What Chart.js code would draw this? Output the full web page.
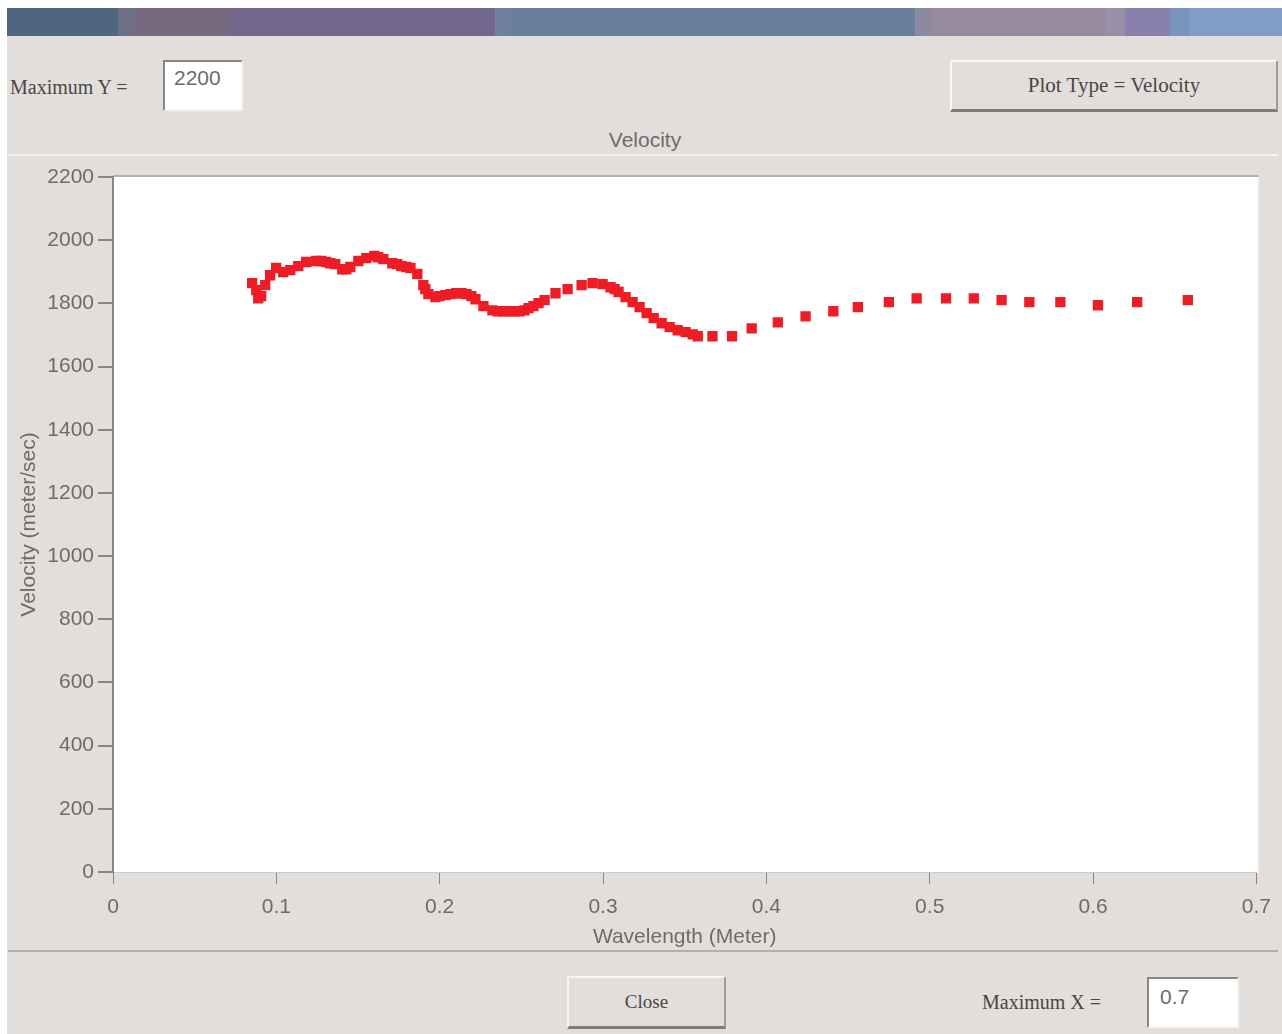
<!DOCTYPE html>
<html>
<head>
<meta charset="utf-8">
<script src="https://cdn.jsdelivr.net/npm/chart.js@4.4.1/dist/chart.umd.min.js"></script>
<style>
  body { margin: 0; width: 1282px; height: 1034px; background: #fff; position: relative; overflow: hidden; }
  .abs { position: absolute; }
  #win { left: 7px; top: 8px; width: 1275px; height: 1026px; background: #e2dedb; }
  #bar { left: 7px; top: 8px; width: 1275px; height: 28px;
    background: linear-gradient(to right,
      #4f6680 0px, #4f6680 111px, #6d6f86 111px, #6d6f86 128px,
      #776a80 128px, #776a80 223px, #74678e 223px, #74678e 488px,
      #6e7fa0 488px, #6e7fa0 503px, #6a7f9e 503px, #6a7f9e 908px,
      #8c8aa0 908px, #8c8aa0 923px, #958a9e 923px, #958a9e 1098px,
      #9a8fa8 1098px, #9a8fa8 1118px, #8a80ad 1118px, #8a80ad 1163px,
      #7a95bb 1163px, #7a95bb 1183px, #7f9dc7 1183px); }
  .serif { font-family: "Liberation Serif", "DejaVu Serif", serif; color: #4a4646; }
  .sans { font-family: "Liberation Sans", Arial, sans-serif; color: #6f6b6b; }
  .field { background: #fff; border-top: 2px solid #8a8684; border-left: 2px solid #8a8684;
    border-bottom: 2px solid #f6f4f2; border-right: 2px solid #f6f4f2; box-sizing: border-box; }
  .btn { background: #e2dedb; border-top: 2px solid #f8f6f4; border-left: 2px solid #f8f6f4;
    border-bottom: 3px solid #7f7b78; border-right: 2px solid #9f9b98; box-sizing: border-box;
    display: flex; align-items: center; justify-content: center; }
  #panel { left: 8px; top: 154px; width: 1270px; height: 798px;
    border-top: 2px solid #f4f2f0; border-bottom: 2px solid #b3aeab; box-sizing: border-box; }
  #chart { left: 0; top: 156px; }
</style>
</head>
<body>
<div id="win" class="abs"></div>
<div id="bar" class="abs"></div>

<div class="abs serif" style="left:10px; top:76px; font-size:20px;">Maximum Y =</div>
<div class="abs field sans" style="left:163px; top:60px; width:80px; height:51px; font-size:21px; padding:4px 0 0 9px;">2200</div>
<div class="abs btn serif" style="left:950px; top:60px; width:328px; height:52px; font-size:21px;">Plot Type = Velocity</div>
<div class="abs sans" style="left:545px; top:128px; width:200px; text-align:center; font-size:21px;">Velocity</div>

<div id="panel" class="abs"></div>
<canvas id="chart" class="abs" width="1282" height="800"></canvas>

<div class="abs btn serif" style="left:567px; top:976px; width:159px; height:53px; font-size:19px;">Close</div>
<div class="abs serif" style="left:982px; top:991px; font-size:20px;">Maximum X =</div>
<div class="abs field sans" style="left:1147px; top:977px; width:92px; height:51px; font-size:21px; padding:6px 0 0 11px;">0.7</div>

<script>
// wavelength (m) and phase velocity (m/s)
const wavelength = [
  0.0852, 0.0877, 0.0889, 0.0907, 0.0932, 0.0962, 0.0999, 0.1042, 0.1085, 0.1134,
  0.1183, 0.1244, 0.1275, 0.1305, 0.1330, 0.1361, 0.1404, 0.1428, 0.1453, 0.1502,
  0.1551, 0.1600, 0.1624, 0.1655, 0.1710, 0.1740, 0.1765, 0.1796, 0.1821, 0.1863,
  0.1900, 0.1912, 0.1931, 0.1974, 0.1998, 0.2035, 0.2066, 0.2102, 0.2133, 0.2164,
  0.2194, 0.2219, 0.2268, 0.2323, 0.2354, 0.2391, 0.2421, 0.2458, 0.2489, 0.2519,
  0.2544, 0.2574, 0.2605, 0.2642, 0.2709, 0.2783, 0.2869, 0.2936, 0.2997, 0.3046,
  0.3071, 0.3095, 0.3138, 0.3181, 0.3224, 0.3267, 0.3310, 0.3359, 0.3408, 0.3457,
  0.3506, 0.3549, 0.3580, 0.3670, 0.3790, 0.3910, 0.4070, 0.4240, 0.4410, 0.4560,
  0.4750, 0.4920, 0.5100, 0.5270, 0.5440, 0.5610, 0.5800, 0.6030, 0.6270, 0.6580
];
const velocity = [
  1864, 1842, 1816, 1823, 1858, 1889, 1912, 1899, 1905, 1918,
  1931, 1934, 1934, 1931, 1927, 1924, 1908, 1908, 1915, 1934,
  1943, 1950, 1946, 1940, 1927, 1924, 1918, 1915, 1912, 1893,
  1858, 1845, 1829, 1820, 1823, 1826, 1829, 1832, 1832, 1829,
  1823, 1813, 1791, 1778, 1775, 1775, 1775, 1775, 1775, 1778,
  1785, 1791, 1801, 1810, 1832, 1845, 1858, 1864, 1861, 1851,
  1845, 1836, 1820, 1804, 1788, 1769, 1753, 1737, 1725, 1715,
  1709, 1702, 1696, 1696, 1696, 1721, 1740, 1759, 1775, 1788,
  1804, 1816, 1816, 1816, 1810, 1804, 1804, 1794, 1804, 1810
];
const xTickLabels = ['0', '0.1', '0.2', '0.3', '0.4', '0.5', '0.6', '0.7'];
const yTickLabels = ['0', '200', '400', '600', '800', '1000', '1200', '1400', '1600', '1800', '2000', '2200'];

const points = wavelength.map((w, i) => ({ x: w, y: velocity[i] }));

const plotBackground = {
  id: 'plotBackground',
  beforeDraw(chart) {
    const { ctx, chartArea: a } = chart;
    ctx.save();
    ctx.fillStyle = '#ffffff';
    ctx.fillRect(a.left, a.top, a.right - a.left + 2, a.bottom - a.top + 1);
    ctx.strokeStyle = '#b5b0ad';
    ctx.lineWidth = 2;
    ctx.beginPath();
    ctx.moveTo(a.left, a.top - 1);
    ctx.lineTo(a.right + 2, a.top - 1);
    ctx.stroke();
    ctx.restore();
  }
};

const tickColor = '#6f6b6b';
const tickFont = { family: '"Liberation Sans", Arial, sans-serif', size: 21 };

new Chart(document.getElementById('chart'), {
  type: 'scatter',
  data: {
    datasets: [{
      data: points,
      pointStyle: 'rect',
      pointRadius: 7.3,
      backgroundColor: '#ee1c25',
      borderWidth: 0
    }]
  },
  options: {
    responsive: false,
    animation: false,
    layout: { padding: { top: 21, right: 24, left: 0, bottom: 0 } },
    plugins: { legend: { display: false }, tooltip: { enabled: false } },
    scales: {
      x: {
        type: 'linear', min: 0, max: 0.7,
        afterFit: s => { s.height = 84; },
        ticks: {
          stepSize: 0.1, color: tickColor, font: tickFont, padding: 11,
          callback: (v, i) => xTickLabels[i]
        },
        grid: { drawOnChartArea: false, tickLength: 12, color: '#8a8585', lineWidth: 1 },
        border: { color: '#cfcac7', width: 1 },
        title: { display: true, text: 'Wavelength (Meter)', color: tickColor, font: tickFont, padding: { top: 0, bottom: 6 } }
      },
      y: {
        min: 0, max: 2200,
        afterFit: s => { s.width = 113; },
        ticks: {
          stepSize: 200, color: tickColor, font: tickFont, padding: 4,
          callback: (v, i) => yTickLabels[i]
        },
        grid: { drawOnChartArea: false, tickLength: 15, color: '#8a8585', lineWidth: 2 },
        border: { color: '#8a8585', width: 2 },
        title: { display: true, text: 'Velocity (meter/sec)', color: tickColor, font: tickFont, padding: { top: 17, bottom: 0 } }
      }
    }
  },
  plugins: [plotBackground]
});
</script>
</body>
</html>
